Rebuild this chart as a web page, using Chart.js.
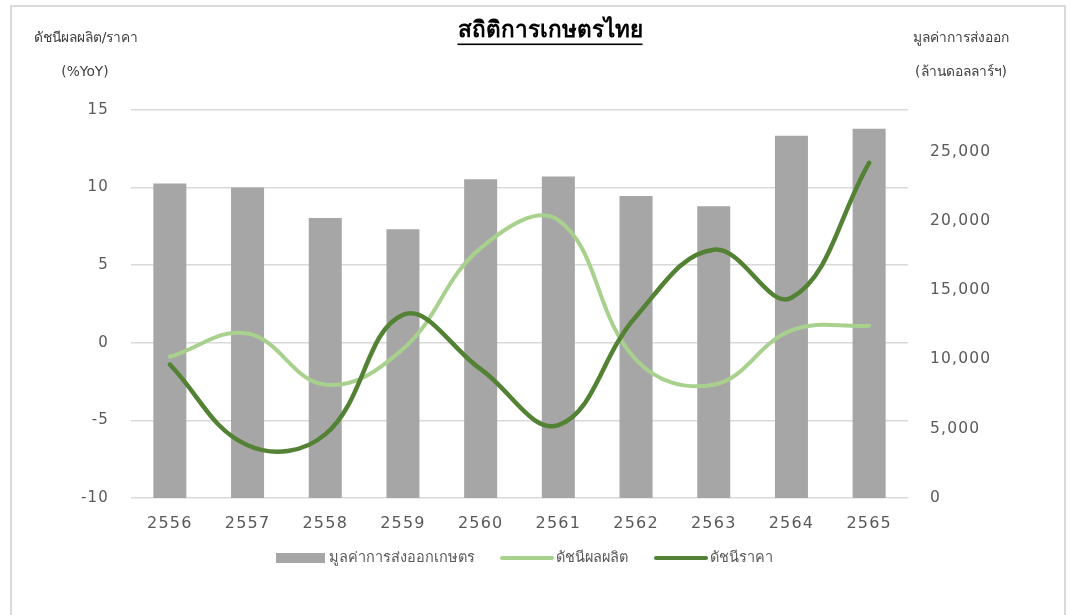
<!DOCTYPE html>
<html>
<head>
<meta charset="utf-8">
<script src="https://cdn.jsdelivr.net/npm/chart.js@4.4.1/dist/chart.umd.min.js"></script>
<style>
  html, body { margin: 0; padding: 0; background: #fff; }
  #wrap { position: relative; width: 1075px; height: 615px; overflow: hidden; }
  #frame { position: absolute; left: 10px; top: 5px; width: 1056px; height: 640px; border: 2px solid #d9d9d9; box-sizing: border-box; pointer-events: none; }
  canvas { position: absolute; left: 0; top: 0; }
</style>
</head>
<body>
<div id="wrap">
  <canvas id="c" width="1075" height="615"></canvas>
  <div id="frame"></div>
</div>
<script>
const years = ['2556','2557','2558','2559','2560','2561','2562','2563','2564','2565'];
const exportValue = [22700, 22400, 20200, 19400, 23000, 23200, 21800, 21050, 26150, 26650];
const productionIndex = [-0.9, 0.6, -2.7, -0.4, 6.1, 7.9, -1.1, -2.7, 0.8, 1.1];
const priceIndex = [-1.4, -6.6, -5.9, 1.8, -1.7, -5.3, 1.7, 6.0, 2.9, 11.6];
const leftTicks = [-10, -5, 0, 5, 10, 15];
const rightTicks = [0, 5000, 10000, 15000, 20000, 25000];

const chartTitle = 'สถิติการเกษตรไทย';
const leftTitle = ['ดัชนีผลผลิต/ราคา', '(%YoY)'];
const rightTitle = ['มูลค่าการส่งออก', '(ล้านดอลลาร์ฯ)'];
const seriesNames = ['มูลค่าการส่งออกเกษตร', 'ดัชนีผลผลิต', 'ดัชนีราคา'];

const FONT = "Tahoma, 'DejaVu Sans', sans-serif";
const NUMFONT = "'DejaVu Sans', Verdana, sans-serif";
const C_BAR = '#a6a6a6', C_LIGHT = '#a9d18e', C_DARK = '#548235';

const decor = {
  id: 'decor',
  beforeDraw(chart) {
    chart.ctx.letterSpacing = '1.2px';
  },
  afterDraw(chart) {
    const ctx = chart.ctx;
    ctx.letterSpacing = '0px';
    ctx.save();
    // Title
    ctx.fillStyle = '#000';
    ctx.font = 'bold 22.5px ' + FONT;
    ctx.textAlign = 'center';
    ctx.textBaseline = 'middle';
    ctx.fillText(chartTitle, 550, 31);
    const w = ctx.measureText(chartTitle).width;
    ctx.fillRect(550 - w / 2, 43.5, w, 1.6);
    // Axis titles
    ctx.fillStyle = '#404040';
    ctx.font = '13.8px ' + FONT;
    ctx.fillText(leftTitle[0], 86, 38);
    ctx.fillText(leftTitle[1], 85, 72);
    ctx.fillText(rightTitle[0], 961, 38);
    ctx.fillText(rightTitle[1], 961, 72);
    // Legend
    const ly = 558;
    ctx.font = '14.5px ' + FONT;
    ctx.textAlign = 'left';
    ctx.fillStyle = C_BAR;
    ctx.fillRect(276, ly - 5, 49, 10);
    ctx.fillStyle = '#595959';
    ctx.fillText(seriesNames[0], 329, ly);
    ctx.lineCap = 'round';
    ctx.lineWidth = 4;
    ctx.strokeStyle = C_LIGHT;
    ctx.beginPath(); ctx.moveTo(502, ly); ctx.lineTo(552, ly); ctx.stroke();
    ctx.fillText(seriesNames[1], 556, ly);
    ctx.strokeStyle = C_DARK;
    ctx.beginPath(); ctx.moveTo(656, ly); ctx.lineTo(706, ly); ctx.stroke();
    ctx.fillText(seriesNames[2], 710, ly);
    ctx.restore();
  }
};

new Chart(document.getElementById('c'), {
  type: 'bar',
  data: {
    labels: years,
    datasets: [
      { type: 'line', label: seriesNames[2], data: priceIndex, yAxisID: 'y', borderColor: C_DARK, borderWidth: 4.5, pointRadius: 0, tension: 0.4, order: 1, borderCapStyle: 'round' },
      { type: 'line', label: seriesNames[1], data: productionIndex, yAxisID: 'y', borderColor: C_LIGHT, borderWidth: 4, pointRadius: 0, tension: 0.4, order: 2, borderCapStyle: 'round' },
      { type: 'bar', label: seriesNames[0], data: exportValue, yAxisID: 'y2', backgroundColor: C_BAR, categoryPercentage: 1, barPercentage: 0.425, order: 3 }
    ]
  },
  options: {
    responsive: false,
    animation: false,
    layout: { padding: { top: 110, bottom: 77, left: 0, right: 0 } },
    plugins: { legend: { display: false }, title: { display: false }, tooltip: { enabled: false } },
    scales: {
      x: {
        offset: true,
        grid: { display: false },
        border: { display: false },
        ticks: { color: '#595959', font: { family: NUMFONT, size: 16 }, padding: 8, maxRotation: 0 },
        afterFit(s) { s.height = 40; }
      },
      y: {
        position: 'left',
        min: leftTicks[0], max: leftTicks[leftTicks.length - 1],
        afterBuildTicks(s) { s.ticks = leftTicks.map(v => ({ value: v })); },
        grid: { color: '#d9d9d9', lineWidth: 1.5, drawTicks: false },
        border: { display: false },
        ticks: { color: '#595959', font: { family: NUMFONT, size: 15 }, padding: 22 },
        afterFit(s) { s.width = 131; }
      },
      y2: {
        position: 'right',
        min: 0, max: 28000,
        afterBuildTicks(s) { s.ticks = rightTicks.map(v => ({ value: v })); },
        grid: { display: false, drawTicks: false },
        border: { display: false },
        ticks: { color: '#595959', font: { family: NUMFONT, size: 15.5 }, padding: 22, callback: v => v.toLocaleString('en-US') },
        afterFit(s) { s.width = 167; }
      }
    }
  },
  plugins: [decor]
});
</script>
</body>
</html>
